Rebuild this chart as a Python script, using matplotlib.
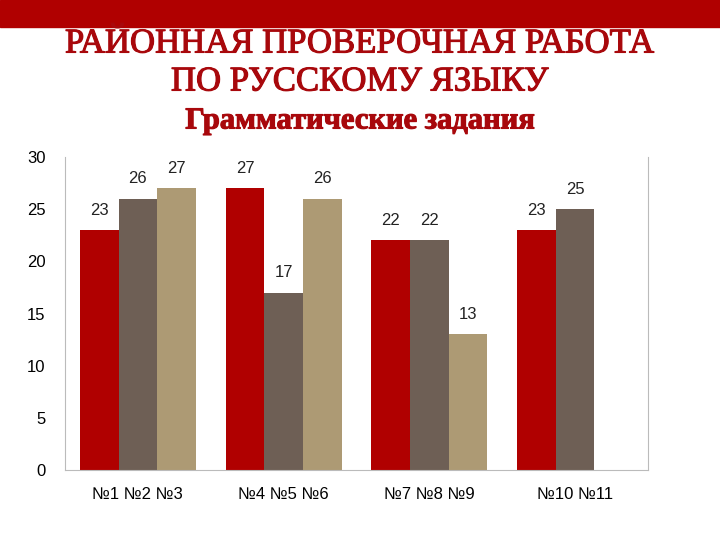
import matplotlib.pyplot as plt
import matplotlib.patheffects as pe
import numpy as np

groups = ['№1 №2 №3', '№4 №5 №6', '№7 №8 №9', '№10 №11']
series1 = [23, 27, 22, 23]
series2 = [26, 17, 22, 25]
series3 = [27, 26, 13, None]
colors = ['#B00000', '#6E5F55', '#AD9A74']

fig = plt.figure(figsize=(7.2, 5.4), dpi=100)
fig.patches.append(plt.Rectangle((0, 1 - 27 / 540), 1, 27 / 540, transform=fig.transFigure,
                                 color='#B00000', zorder=0))
title_kw = dict(ha='center', va='center', color='#A8080C', family='Liberation Serif',
                path_effects=[pe.withStroke(linewidth=0.8, foreground='#A8080C')])
fig.text(0.5, 1 - 44 / 540, 'РАЙОННАЯ ПРОВЕРОЧНАЯ РАБОТА', fontsize=25, **title_kw)
fig.text(0.5, 1 - 82 / 540, 'ПО РУССКОМУ ЯЗЫКУ', fontsize=25, **title_kw)
fig.text(0.5, 1 - 121 / 540, 'Грамматические задания', fontsize=22, weight='bold', **title_kw)

ax = fig.add_axes([65 / 720, 1 - 470 / 540, 583 / 720, 313 / 540])
w = 0.265
x = np.arange(len(groups))
for k, s in enumerate([series1, series2, series3]):
    for i, v in enumerate(s):
        if v is None:
            continue
        xi = x[i] + (k - 1) * w
        ax.bar(xi, v, width=w, color=colors[k])
        ax.text(xi, v + 1.2, str(v), ha='center', va='bottom', fontsize=12,
                family='Liberation Sans', color='#222222')

ax.set_xlim(-0.5, 3.5)
ax.set_ylim(0, 30)
ax.set_yticks(range(0, 31, 5))
ax.set_xticks(x)
ax.set_xticklabels(groups, family='Liberation Sans', fontsize=12)
for lab in ax.get_yticklabels():
    lab.set_family('Liberation Sans')
    lab.set_fontsize(12)
ax.tick_params(length=0, pad=14)
ax.tick_params(axis='x', pad=12)
ax.spines['top'].set_visible(False)
for sp in ['left', 'bottom', 'right']:
    ax.spines[sp].set_color('#BBBBBB')

fig.savefig('out.png', dpi=100)
